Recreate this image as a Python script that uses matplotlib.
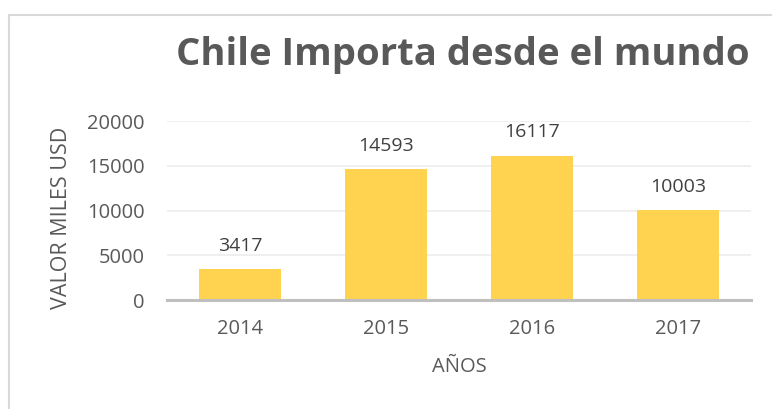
import matplotlib.pyplot as plt
from matplotlib.patches import Rectangle

# Data
years = ["2014", "2015", "2016", "2017"]
values = [3417, 14593, 16117, 10003]
y_ticks = [0, 5000, 10000, 15000, 20000]

plt.rcParams["font.family"] = ["Open Sans", "DejaVu Sans"]

fig = plt.figure(figsize=(7.72, 4.09), dpi=100)
ax = fig.add_axes([167 / 772, 1 - 300 / 409, 584 / 772, 179 / 409])

# chart frame
fig.patches.append(Rectangle((9 / 772, -0.1), 1.1, 1 - 15 / 409 + 0.1,
                             transform=fig.transFigure, fill=False,
                             edgecolor="#d9d9d9", linewidth=1.5))

x = range(len(years))
ax.bar(x, values, width=0.555, color="#ffd34f", zorder=3)
for xi, v in zip(x, values):
    ax.annotate(str(v), (xi, v), xytext=(0, 17), textcoords="offset points",
                ha="center", va="center", fontsize=14, color="#404040")

ax.set_xlim(-0.5, len(years) - 0.5)
ax.set_ylim(0, 20000)
ax.set_yticks(y_ticks)
ax.set_xticks(list(x))
ax.set_xticklabels(years)
ax.tick_params(axis="both", length=0, labelsize=14.5, labelcolor="#595959")
ax.tick_params(axis="x", pad=14)
ax.tick_params(axis="y", pad=16)
ax.grid(axis="y", color="#ececec", linewidth=1.2, zorder=0)

for s in ["top", "right", "left"]:
    ax.spines[s].set_visible(False)
ax.spines["bottom"].set_color("#bfbfbf")
ax.spines["bottom"].set_linewidth(2.2)
ax.spines["bottom"].set_zorder(4)

ax.set_ylabel("VALOR MILES USD", fontsize=15.5, color="#595959")
ax.yaxis.set_label_coords(-0.163, 0.458)
ax.set_xlabel("AÑOS", fontsize=14.5, color="#595959")
ax.xaxis.set_label_coords(0.5, -0.32)

fig.text(463 / 772, 1 - 55 / 409, "Chile Importa desde el mundo",
         ha="center", va="center", fontsize=27.5, fontweight="bold",
         color="#595959")

fig.savefig("out.png", dpi=100)
